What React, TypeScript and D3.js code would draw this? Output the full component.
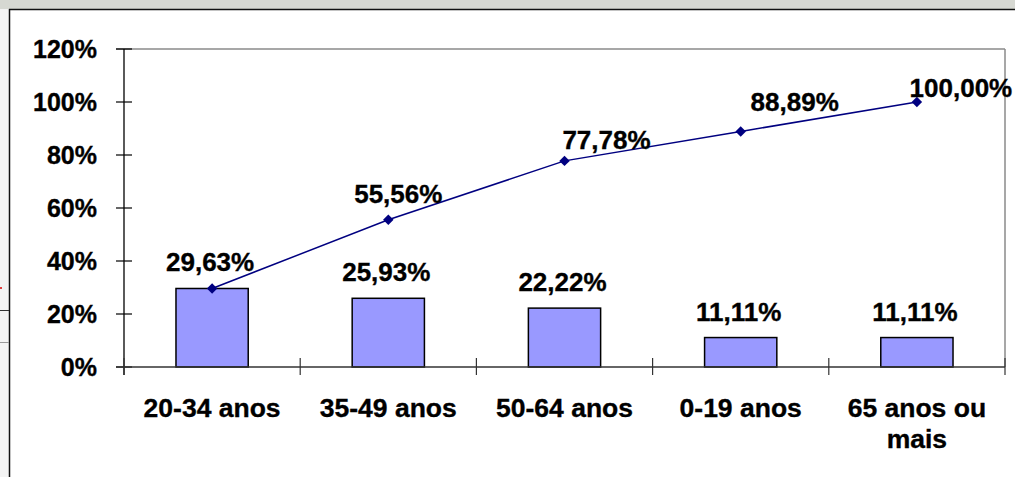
import React from "react";
import * as d3 from "d3";

const categories: string[][] = [["20-34 anos"], ["35-49 anos"], ["50-64 anos"], ["0-19 anos"], ["65 anos ou", "mais"]];
const barValues: number[] = [29.63, 25.93, 22.22, 11.11, 11.11];
const cumValues: number[] = [29.63, 55.56, 77.78, 88.89, 100.0];
const yTicks: number[] = [0, 20, 40, 60, 80, 100, 120];

// label offsets of the cumulative line labels (dx, dy relative to point); first is hidden (overlaps bar label)
const lineLabelOffsets: [number, number][] = [[0, 0], [10, -17], [42, -12], [54, -20], [44, -5]];

const W = 1015;
const H = 477;
const fmt = (v: number) => v.toFixed(2).replace(".", ",") + "%";

export default function App() {
  const left = 124;
  const right = 1005;
  const top = 49;
  const bottom = 367;
  const font = "'Liberation Sans', Arial, sans-serif";

  const catW = (right - left) / categories.length;
  const xc = (i: number) => left + catW * (i + 0.5);
  const y = d3.scaleLinear().domain([0, 120]).range([bottom, top]);
  const line = d3.line<number>().x((_, i) => xc(i)).y((d) => y(d));
  const bw = catW * 0.41;
  const heavy = { stroke: "#000", strokeWidth: 0.35 };

  return (
    <svg width={W} height={H} style={{ position: "absolute", left: 0, top: 0 }} fontFamily={font}>
      <rect x={0} y={0} width={W} height={H} fill="#ffffff" />
      <rect x={0} y={0} width={W} height={9} fill="#d6d8d2" />
      <rect x={0} y={9} width={9} height={H - 9} fill="#f3f3f3" />
      <line x1={9} x2={W} y1={9.5} y2={9.5} stroke="#111" strokeWidth={1.5} />
      <line x1={9.5} x2={9.5} y1={9} y2={H} stroke="#111" strokeWidth={1.5} />
      <line x1={0} x2={9} y1={310.5} y2={310.5} stroke="#333" strokeWidth={1} />
      <line x1={0} x2={9} y1={342.5} y2={342.5} stroke="#999" strokeWidth={1} />
      <rect x={0} y={287} width={2} height={2} fill="#e04040" />

      {/* plot area border */}
      <line x1={left - 8} x2={right} y1={top} y2={top} stroke="#8a8a8a" strokeWidth={1.5} />
      <line x1={right} x2={right} y1={top} y2={bottom} stroke="#8a8a8a" strokeWidth={1.5} />

      {/* bars */}
      {barValues.map((v, i) => (
        <rect key={"b" + i} x={xc(i) - bw / 2} y={y(v)} width={bw} height={bottom - y(v)} fill="#9999ff" stroke="#000" strokeWidth={1.5} />
      ))}

      {/* axes */}
      <line x1={left} x2={left} y1={top} y2={bottom + 8} stroke="#000" strokeWidth={1.3} />
      {yTicks.map((t) => (
        <g key={"yt" + t}>
          <line x1={left - 8} x2={left + 8} y1={y(t)} y2={y(t)} stroke="#000" strokeWidth={1.2} />
          <text x={97} y={y(t) + 9} textAnchor="end" fontSize={25} fontWeight="bold" {...heavy}>{t}%</text>
        </g>
      ))}
      <line x1={left - 8} x2={right} y1={bottom} y2={bottom} stroke="#333" strokeWidth={1.5} />
      {d3.range(categories.length + 1).map((i) => (
        <line key={"xt" + i} x1={left + catW * i} x2={left + catW * i} y1={bottom - 9} y2={bottom + 8} stroke="#333" strokeWidth={1.2} />
      ))}
      {categories.map((lines, i) => (
        <text key={"xl" + i} x={xc(i)} textAnchor="middle" fontSize={26.5} fontWeight="bold" {...heavy}>
          {lines.map((l, j) => (
            <tspan key={j} x={xc(i)} y={417 + j * 31}>{l}</tspan>
          ))}
        </text>
      ))}

      {/* cumulative line */}
      <path d={line(cumValues) || ""} fill="none" stroke="#000080" strokeWidth={1.5} />
      {cumValues.map((v, i) => (
        <path key={"m" + i} d={d3.symbol(d3.symbolDiamond2, 70)() || ""} transform={`translate(${xc(i)},${y(v)})`} fill="#000080" />
      ))}

      {/* bar labels */}
      {barValues.map((v, i) => (
        <text key={"bl" + i} x={xc(i) - 2} y={y(v) - 17} textAnchor="middle" fontSize={26} fontWeight="bold" {...heavy}>{fmt(v)}</text>
      ))}
      {/* line labels */}
      {cumValues.map((v, i) =>
        i === 0 ? null : (
          <text key={"ll" + i} x={xc(i) + lineLabelOffsets[i][0]} y={y(v) + lineLabelOffsets[i][1]} textAnchor="middle" fontSize={26} fontWeight="bold" {...heavy}>{fmt(v)}</text>
        )
      )}
    </svg>
  );
}
